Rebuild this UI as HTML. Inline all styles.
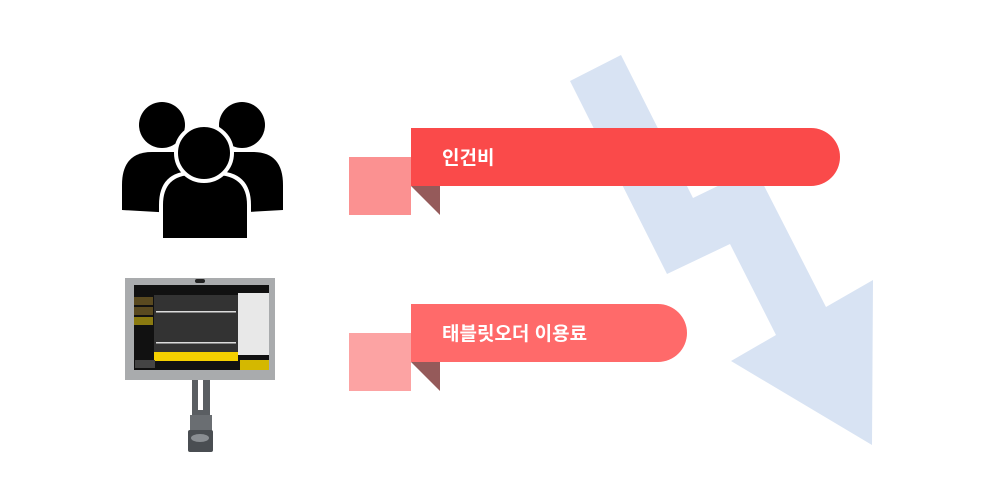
<!DOCTYPE html>
<html><head><meta charset="utf-8"><style>
html,body{margin:0;padding:0;background:#fff;width:1000px;height:500px;overflow:hidden}
</style></head><body>
<svg width="1000" height="500" viewBox="0 0 1000 500" xmlns="http://www.w3.org/2000/svg">
<rect width="1000" height="500" fill="#fff"/>
<!-- arrow -->
<polygon points="570,81 621,55 693,198 755,168 826,307 873,280 872,445 731,361 776,335 730,244 667,274" fill="#d8e3f3"/>
<!-- people -->
<g fill="#000">
<circle cx="162" cy="125" r="23"/>
<circle cx="242" cy="125" r="23"/>
<path d="M122,210 L122,185 Q122,152 152,152 L178,152 Q205,152 210,185 L210,215 Z"/>
<path d="M283,210 L283,185 Q283,152 253,152 L227,152 Q200,152 195,185 L195,215 Z"/>
</g>
<g fill="#000" stroke="#fff" stroke-width="4">
<path d="M161,240 L161,205 Q161,173 193,173 L215,173 Q249,173 249,205 L249,240 Z"/>
<circle cx="204" cy="153" r="28"/>
</g>
<!-- tablet -->
<rect x="192" y="378" width="18" height="42" fill="#5a5e62"/>
<rect x="198" y="378" width="5" height="32" fill="#fff"/>
<rect x="190" y="415" width="22" height="18" fill="#6a6e72"/>
<rect x="188" y="430" width="25" height="22" fill="#4a4e52" rx="2"/>
<ellipse cx="200" cy="438" rx="9" ry="4" fill="#8a8e92"/>
<rect x="125" y="278" width="150" height="102" fill="#a9abad"/>
<rect x="134" y="285" width="135" height="85" fill="#111"/>
<rect x="195" y="279" width="10" height="4" rx="2" fill="#222"/>
<rect x="134" y="297" width="19" height="8" fill="#5a4a20"/>
<rect x="134" y="307" width="19" height="8" fill="#5a4a20"/>
<rect x="134" y="317" width="19" height="8" fill="#8a7a10"/>
<rect x="238" y="293" width="31" height="62" fill="#e8e8e8"/>
<rect x="154" y="295" width="84" height="66" fill="#333"/>
<rect x="156" y="311" width="80" height="1.5" fill="#ddd"/>
<rect x="156" y="342" width="80" height="1.5" fill="#ddd"/>
<rect x="154" y="352" width="84" height="9" fill="#f5d000"/>
<rect x="240" y="360" width="29" height="10" fill="#d4b800"/>
<rect x="135" y="360" width="20" height="8" fill="#444"/>
<!-- ribbon 1 -->
<rect x="349" y="157" width="62" height="58" fill="#fb9191"/>
<polygon points="411,186 440,186 440,215" fill="#955a5a"/>
<path d="M411,128 H811 A29,29 0 0 1 811,186 H411 Z" fill="#fa4a4a"/>
<text x="442" y="164" font-family="Liberation Sans, Noto Sans CJK KR, sans-serif" font-size="19" font-weight="bold" fill="#fff">인건비</text>
<!-- ribbon 2 -->
<rect x="349" y="333" width="62" height="58" fill="#fca3a3"/>
<polygon points="411,362 440,362 440,391" fill="#955a5a"/>
<path d="M411,304 H658 A29,29 0 0 1 658,362 H411 Z" fill="#ff6a6a"/>
<text x="442" y="340" font-family="Liberation Sans, Noto Sans CJK KR, sans-serif" font-size="19" font-weight="bold" fill="#fff">태블릿오더 이용료</text>
</svg>
</body></html>
